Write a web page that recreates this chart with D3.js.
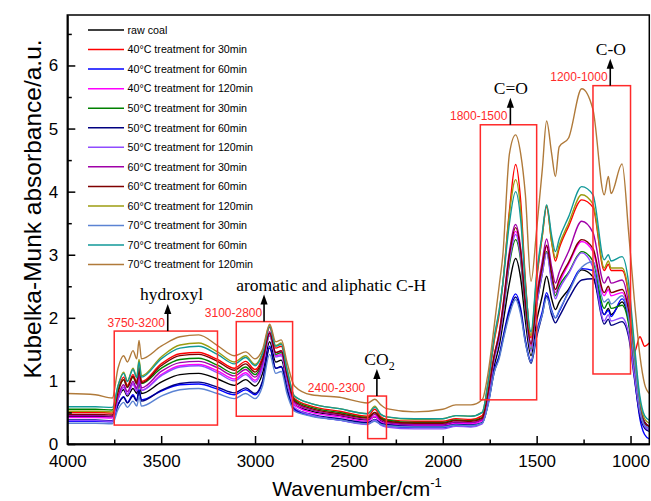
<!DOCTYPE html>
<html lang="en">
<head>
<meta charset="utf-8">
<title>Kubelka-Munk spectra</title>
<script src="https://cdn.jsdelivr.net/npm/d3@7"></script>
<style>
  body { margin: 0; background: #fff; }
  .axis path, .axis line { stroke: #000; stroke-width: 1.5; }
  .axis text { font-family: "Liberation Sans", Arial, sans-serif; font-size: 17px; fill: #000; }
</style>
</head>
<body>
<script>

var wavenumbers = [4000, 3850, 3760, 3730, 3700, 3680, 3650, 3630, 3618, 3605,
                   3500, 3400, 3300, 3200, 3110, 3050, 3000, 2960, 2922, 2890,
                   2860, 2830, 2790, 2700, 2550, 2400, 2362, 2330, 2300, 2150,
                   2000, 1930, 1850, 1790, 1760, 1725, 1700, 1680, 1645, 1612,
                   1585, 1560, 1530, 1500, 1470, 1447, 1420, 1400, 1380, 1330,
                   1260, 1200, 1140, 1118, 1104, 1045, 1010, 980, 950, 925, 900];

var rawCoal = [0.44, 0.44, 0.43, 0.72, 0.86, 0.76, 0.88, 0.80, 0.98, 0.80,
               0.98, 1.10, 1.12, 1.03, 0.93, 1.02, 0.92, 1.12, 1.62, 1.30,
               1.33, 0.98, 0.62, 0.52, 0.45, 0.38, 0.43, 0.37, 0.34, 0.31,
               0.31, 0.34, 0.33, 0.38, 0.70, 1.25, 1.55, 1.90, 2.55, 2.94,
               2.62, 1.95, 1.40, 1.95, 2.35, 2.66, 2.30, 2.13, 2.25, 2.45,
               2.76, 2.65, 2.05, 2.15, 2.05, 2.25, 1.95, 1.30, 0.60, 0.35, 0.28];

var t40m30 = [0.50, 0.50, 0.49, 0.86, 1.06, 0.93, 1.10, 0.98, 1.22, 0.99,
              1.27, 1.43, 1.45, 1.34, 1.20, 1.31, 1.18, 1.38, 1.85, 1.52,
              1.55, 1.15, 0.72, 0.60, 0.52, 0.44, 0.55, 0.43, 0.39, 0.36,
              0.36, 0.40, 0.39, 0.45, 0.92, 1.65, 2.05, 2.55, 3.70, 4.43,
              3.85, 2.60, 1.68, 2.60, 3.30, 3.76, 3.20, 2.90, 3.10, 3.45,
              3.87, 3.75, 2.75, 2.85, 2.75, 2.75, 2.35, 1.45, 1.70, 1.55, 1.60];

var t40m60 = [0.36, 0.36, 0.35, 0.62, 0.75, 0.66, 0.78, 0.69, 0.86, 0.70,
              0.84, 0.94, 0.95, 0.87, 0.78, 0.86, 0.78, 0.98, 1.55, 1.20,
              1.22, 0.86, 0.54, 0.45, 0.38, 0.32, 0.37, 0.31, 0.29, 0.26,
              0.26, 0.29, 0.28, 0.33, 0.62, 1.18, 1.40, 1.68, 2.15, 2.38,
              2.15, 1.65, 1.32, 1.78, 2.10, 2.40, 2.12, 2.00, 2.10, 2.42,
              2.78, 2.75, 2.05, 2.12, 2.02, 2.30, 1.95, 1.10, 0.40, 0.15, 0.08];

var t40m120 = [0.42, 0.42, 0.41, 0.72, 0.90, 0.79, 0.95, 0.84, 1.06, 0.85,
               1.10, 1.24, 1.26, 1.16, 1.03, 1.13, 1.01, 1.24, 1.74, 1.40,
               1.42, 1.03, 0.62, 0.50, 0.43, 0.36, 0.44, 0.35, 0.32, 0.29,
               0.29, 0.33, 0.32, 0.37, 0.74, 1.38, 1.70, 2.10, 2.95, 3.37,
               3.00, 2.18, 1.55, 2.25, 2.78, 3.13, 2.65, 2.40, 2.55, 2.85,
               3.21, 3.05, 2.35, 2.45, 2.35, 2.40, 2.05, 1.25, 0.55, 0.30, 0.25];

var t50m30 = [0.55, 0.55, 0.54, 0.85, 1.02, 0.90, 1.06, 0.95, 1.18, 0.96,
              1.20, 1.34, 1.36, 1.25, 1.12, 1.22, 1.10, 1.30, 1.72, 1.42,
              1.45, 1.08, 0.70, 0.58, 0.50, 0.42, 0.50, 0.41, 0.38, 0.34,
              0.34, 0.38, 0.37, 0.42, 0.78, 1.38, 1.68, 2.05, 2.85, 3.24,
              2.90, 2.10, 1.50, 2.20, 2.70, 3.05, 2.60, 2.35, 2.50, 2.72,
              3.05, 2.90, 2.15, 2.25, 2.15, 2.20, 1.90, 1.20, 0.55, 0.32, 0.28];

var t50m60 = [0.38, 0.38, 0.37, 0.62, 0.74, 0.65, 0.76, 0.68, 0.84, 0.68,
              0.85, 0.96, 0.98, 0.90, 0.81, 0.89, 0.80, 1.00, 1.52, 1.20,
              1.23, 0.88, 0.56, 0.47, 0.40, 0.34, 0.39, 0.33, 0.31, 0.28,
              0.28, 0.31, 0.30, 0.34, 0.62, 1.15, 1.38, 1.65, 2.10, 2.33,
              2.10, 1.62, 1.28, 1.70, 2.05, 2.35, 2.05, 1.92, 2.02, 2.30,
              2.60, 2.62, 1.90, 1.98, 1.88, 1.94, 1.70, 1.05, 0.45, 0.25, 0.20];

var t50m120 = [0.37, 0.37, 0.36, 0.70, 0.90, 0.78, 0.95, 0.84, 1.05, 0.85,
               1.08, 1.22, 1.24, 1.13, 1.00, 1.10, 0.98, 1.20, 1.72, 1.38,
               1.40, 1.00, 0.58, 0.46, 0.38, 0.31, 0.38, 0.30, 0.27, 0.24,
               0.24, 0.28, 0.27, 0.32, 0.70, 1.35, 1.65, 2.05, 2.90, 3.32,
               2.95, 2.15, 1.47, 2.20, 2.70, 3.03, 2.55, 2.30, 2.45, 2.70,
               3.03, 2.80, 1.95, 2.05, 1.95, 2.00, 1.75, 1.10, 0.50, 0.28, 0.22];

var t60m30 = [0.45, 0.45, 0.44, 0.76, 0.94, 0.83, 0.99, 0.88, 1.10, 0.89,
              1.15, 1.29, 1.31, 1.21, 1.08, 1.18, 1.06, 1.28, 1.78, 1.45,
              1.47, 1.08, 0.66, 0.54, 0.46, 0.39, 0.47, 0.38, 0.34, 0.31,
              0.31, 0.35, 0.34, 0.39, 0.78, 1.42, 1.76, 2.18, 3.05, 3.48,
              3.10, 2.25, 1.60, 2.35, 2.90, 3.25, 2.80, 2.55, 2.72, 3.05,
              3.53, 3.35, 2.55, 2.65, 2.55, 2.60, 2.20, 1.35, 0.60, 0.34, 0.28];

var t60m60 = [0.47, 0.47, 0.46, 0.82, 1.02, 0.90, 1.07, 0.96, 1.20, 0.97,
              1.24, 1.40, 1.42, 1.31, 1.17, 1.27, 1.14, 1.34, 1.76, 1.45,
              1.48, 1.10, 0.68, 0.56, 0.48, 0.41, 0.50, 0.40, 0.36, 0.33,
              0.33, 0.37, 0.36, 0.41, 0.80, 1.42, 1.74, 2.15, 3.00, 3.43,
              3.05, 2.22, 1.58, 2.30, 2.82, 3.15, 2.70, 2.45, 2.60, 2.88,
              3.24, 3.10, 2.40, 2.50, 2.40, 2.45, 2.10, 1.30, 0.58, 0.33, 0.28];

var t60m120 = [0.52, 0.52, 0.51, 0.92, 1.14, 1.00, 1.20, 1.06, 1.34, 1.08,
               1.38, 1.57, 1.60, 1.46, 1.30, 1.40, 1.26, 1.45, 1.88, 1.56,
               1.60, 1.20, 0.76, 0.64, 0.56, 0.48, 0.60, 0.47, 0.43, 0.39,
               0.40, 0.45, 0.44, 0.50, 0.95, 1.68, 2.10, 2.55, 3.65, 4.19,
               3.70, 2.55, 1.72, 2.65, 3.30, 3.78, 3.20, 2.95, 3.15, 3.50,
               3.95, 3.80, 2.79, 2.90, 2.79, 2.79, 2.40, 1.50, 0.70, 0.40, 0.33];

var t70m30 = [0.33, 0.33, 0.32, 0.55, 0.66, 0.58, 0.68, 0.60, 0.75, 0.60,
              0.76, 0.86, 0.88, 0.80, 0.72, 0.80, 0.72, 0.92, 1.42, 1.12,
              1.15, 0.80, 0.52, 0.44, 0.38, 0.32, 0.36, 0.31, 0.29, 0.27,
              0.27, 0.30, 0.29, 0.33, 0.60, 1.15, 1.35, 1.62, 2.05, 2.29,
              2.05, 1.60, 1.30, 1.75, 2.05, 2.32, 2.10, 2.00, 2.12, 2.40,
              2.80, 2.89, 2.25, 2.30, 2.22, 2.35, 2.00, 1.30, 0.55, 0.30, 0.25];

var t70m60 = [0.59, 0.59, 0.58, 0.92, 1.12, 0.99, 1.18, 1.05, 1.30, 1.06,
              1.35, 1.52, 1.55, 1.42, 1.27, 1.37, 1.24, 1.43, 1.86, 1.55,
              1.58, 1.18, 0.76, 0.64, 0.56, 0.48, 0.58, 0.47, 0.43, 0.40,
              0.40, 0.45, 0.44, 0.50, 0.95, 1.72, 2.12, 2.55, 3.50, 4.00,
              3.55, 2.50, 1.78, 2.70, 3.35, 3.79, 3.30, 3.05, 3.25, 3.60,
              4.08, 3.95, 2.92, 3.00, 2.90, 2.97, 2.55, 1.60, 0.75, 0.45, 0.38];

var t70m120 = [0.80, 0.78, 0.73, 1.20, 1.40, 1.30, 1.48, 1.35, 1.64, 1.35,
               1.55, 1.70, 1.73, 1.56, 1.40, 1.46, 1.35, 1.50, 1.90, 1.62,
               1.65, 1.30, 0.92, 0.78, 0.74, 0.65, 0.71, 0.62, 0.56, 0.51,
               0.55, 0.62, 0.62, 0.70, 1.10, 1.90, 2.50, 3.00, 4.60, 4.90,
               4.60, 3.95, 2.58, 3.40, 4.35, 5.12, 4.60, 4.24, 4.71, 4.85,
               5.63, 5.30, 3.95, 4.24, 3.97, 4.44, 3.35, 2.30, 1.40, 0.95, 0.80];

var seriesNames = ["raw coal",
                   "40°C treatment for 30min", "40°C treatment for 60min", "40°C treatment for 120min",
                   "50°C treatment for 30min", "50°C treatment for 60min", "50°C treatment for 120min",
                   "60°C treatment for 30min", "60°C treatment for 60min", "60°C treatment for 120min",
                   "70°C treatment for 30min", "70°C treatment for 60min", "70°C treatment for 120min"];
var seriesValues = [rawCoal, t40m30, t40m60, t40m120, t50m30, t50m60, t50m120,
                    t60m30, t60m60, t60m120, t70m30, t70m60, t70m120];
var palette = ["#000000", "#ff0000", "#0000ff", "#ff00ff", "#008000", "#000080", "#8f4cff",
               "#a000a8", "#800000", "#9c9c10", "#5b83d3", "#119999", "#b07a3a"];

var xTicks = [4000, 3500, 3000, 2500, 2000, 1500, 1000];
var yTicks = [0, 1, 2, 3, 4, 5, 6];

// band assignments: wavenumber range, box height, arrow position, labels
var bands = [
  {from: 3750, to: 3200, low: 0.30, high: 1.79, arrow: 3465, range: "3750-3200", rangeEnd: 3480, group: "hydroxyl", groupAt: 3445, anchor: "middle"},
  {from: 3100, to: 2800, low: 0.44, high: 1.94, arrow: 2952, range: "3100-2800", rangeEnd: 2962, group: "aromatic and aliphatic C-H", groupAt: 3100, anchor: "start"},
  {from: 2400, to: 2300, low: 0.085, high: 0.76, arrow: 2351, range: "2400-2300", rangeEnd: 2413, group: "CO", sub: "2", groupAt: 2337, anchor: "middle"},
  {from: 1800, to: 1500, low: 0.70, high: 5.06, arrow: 1640, range: "1800-1500", rangeEnd: 1656, group: "C=O", groupAt: 1637, anchor: "middle"},
  {from: 1200, to: 1000, low: 1.11, high: 5.68, arrow: 1108, range: "1200-1000", rangeEnd: 1122, group: "C-O", groupAt: 1105, anchor: "middle"}
];

var w = 651;
var h = 501;
var padLeft = 67.3, padRight = 649.3, padTop = 15, padBottom = 444;

var xScale = d3.scaleLinear().domain([4000, 900]).range([padLeft, padRight]);
var yScale = d3.scaleLinear().domain([0, 6.8]).range([padBottom, padTop]);

var svg = d3.select("body")
            .append("svg")
            .attr("width", w)
            .attr("height", h);

var plot = svg.append("g");

plot.append("clipPath")
    .attr("id", "clip")
    .append("rect")
    .attr("x", padLeft)
    .attr("y", padTop)
    .attr("width", padRight - padLeft)
    .attr("height", padBottom - padTop);

var line = d3.line()
             .x(function(d, i) { return xScale(wavenumbers[i]); })
             .y(function(d) { return yScale(d); })
             .curve(d3.curveMonotoneX);

plot.append("g")
    .attr("clip-path", "url(#clip)")
    .selectAll("path")
    .data(seriesValues)
    .enter()
    .append("path")
    .attr("d", line)
    .attr("fill", "none")
    .attr("stroke", function(d, i) { return palette[i]; })
    .attr("stroke-width", 1.4);

// red band boxes and labels
var band = plot.selectAll(".band")
               .data(bands)
               .enter()
               .append("g")
               .attr("class", "band");

band.append("rect")
    .attr("x", function(d) { return xScale(d.from); })
    .attr("y", function(d) { return yScale(d.high); })
    .attr("width", function(d) { return xScale(d.to) - xScale(d.from); })
    .attr("height", function(d) { return yScale(d.low) - yScale(d.high); })
    .attr("fill", "none")
    .attr("stroke", "#ff2a2a")
    .attr("stroke-width", 1.5);

band.append("text")
    .attr("x", function(d) { return xScale(d.rangeEnd); })
    .attr("y", function(d) { return yScale(d.high) - 4.5; })
    .attr("text-anchor", "end")
    .attr("font-family", "Liberation Sans, Arial, sans-serif")
    .attr("font-size", "12px")
    .attr("fill", "#ff2a2a")
    .text(function(d) { return d.range; });

band.append("line")
    .attr("x1", function(d) { return xScale(d.arrow); })
    .attr("x2", function(d) { return xScale(d.arrow); })
    .attr("y1", function(d) { return yScale(d.high); })
    .attr("y2", function(d) { return yScale(d.high) - 20; })
    .attr("stroke", "#000")
    .attr("stroke-width", 1.6);

band.append("path")
    .attr("d", function(d) {
      var ax = xScale(d.arrow), ay = yScale(d.high) - 27;
      return "M" + ax + "," + ay + "L" + (ax + 3.6) + "," + (ay + 10) + "L" + (ax - 3.6) + "," + (ay + 10) + "Z";
    })
    .attr("fill", "#000");

var groupText = band.append("text")
    .attr("x", function(d) { return xScale(d.groupAt); })
    .attr("y", function(d) { return yScale(d.high) - 31; })
    .attr("text-anchor", function(d) { return d.anchor; })
    .attr("font-family", "Liberation Serif, Times New Roman, serif")
    .attr("font-size", "17.5px")
    .attr("fill", "#000");

groupText.append("tspan").text(function(d) { return d.group; });
groupText.filter(function(d) { return d.sub; })
    .append("tspan")
    .attr("dy", 5)
    .attr("font-size", "12px")
    .text(function(d) { return d.sub; });

// axes with inward ticks
var xAxis = d3.axisBottom(xScale).tickValues(xTicks).tickFormat(d3.format("d"))
              .tickSizeInner(-8).tickSizeOuter(0).tickPadding(11);
var xMinor = d3.axisBottom(xScale).tickValues(d3.range(3750, 900, -500)).tickFormat("")
               .tickSizeInner(-4.5).tickSizeOuter(0);
var yAxis = d3.axisLeft(yScale).tickValues(yTicks).tickFormat(d3.format("d"))
              .tickSizeInner(-8).tickSizeOuter(0).tickPadding(9);
var yMinor = d3.axisLeft(yScale).tickValues(d3.range(0.5, 6.8, 1)).tickFormat("")
               .tickSizeInner(-4.5).tickSizeOuter(0);

svg.append("g").attr("class", "axis").attr("transform", "translate(0," + padBottom + ")").call(xMinor);
svg.append("g").attr("class", "axis").attr("transform", "translate(0," + padBottom + ")").call(xAxis);
svg.append("g").attr("class", "axis").attr("transform", "translate(" + padLeft + ",0)").call(yMinor);
svg.append("g").attr("class", "axis").attr("transform", "translate(" + padLeft + ",0)").call(yAxis);

svg.append("rect")
   .attr("x", padLeft)
   .attr("y", padTop)
   .attr("width", padRight - padLeft)
   .attr("height", padBottom - padTop)
   .attr("fill", "none")
   .attr("stroke", "#000")
   .attr("stroke-width", 1.5);

// legend
var legend = svg.append("g")
                .selectAll("g")
                .data(seriesNames)
                .enter()
                .append("g")
                .attr("transform", function(d, i) { return "translate(88," + (30 + i * 19.55) + ")"; });

legend.append("line")
      .attr("x1", 0)
      .attr("x2", 36)
      .attr("stroke", function(d, i) { return palette[i]; })
      .attr("stroke-width", 1.5);

legend.append("text")
      .attr("x", 39.5)
      .attr("dy", "0.35em")
      .attr("font-family", "Liberation Sans, Arial, sans-serif")
      .attr("font-size", "10.7px")
      .attr("fill", "#000")
      .text(function(d) { return d; });

// axis titles
var xTitle = svg.append("text")
   .attr("x", 357)
   .attr("y", 496)
   .attr("text-anchor", "middle")
   .attr("font-family", "Liberation Sans, Arial, sans-serif")
   .attr("font-size", "21px")
   .attr("fill", "#000");
xTitle.append("tspan").text("Wavenumber/cm");
xTitle.append("tspan").attr("dy", -9).attr("font-size", "13px").text("-1");

svg.append("text")
   .attr("transform", "translate(41,209) rotate(-90)")
   .attr("text-anchor", "middle")
   .attr("font-family", "Liberation Sans, Arial, sans-serif")
   .attr("font-size", "24.5px")
   .attr("fill", "#000")
   .text("Kubelka-Munk absorbance/a.u.");

</script>
</body>
</html>
